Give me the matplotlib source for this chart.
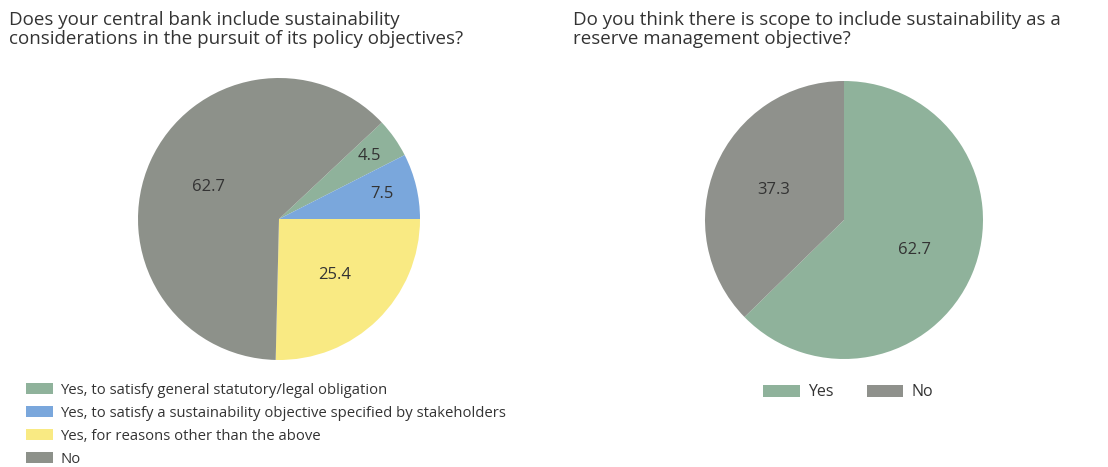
import matplotlib.pyplot as plt
import numpy as np
from matplotlib.patches import Patch

# ---- data ----
policy_labels = ["Yes, to satisfy general statutory/legal obligation",
                 "Yes, to satisfy a sustainability objective specified by stakeholders",
                 "Yes, for reasons other than the above",
                 "No"]
policy_values = [4.5, 7.5, 25.4, 62.7]
policy_colors = ["#8fb29b", "#7aa7dc", "#f9ea83", "#8d918a"]
policy_label_dist = [0.78, 0.75, 0.56, 0.55]

reserve_labels = ["Yes", "No"]
reserve_values = [62.7, 37.3]
reserve_colors = ["#8fb29b", "#8f918c"]

title_left = "Does your central bank include sustainability\nconsiderations in the pursuit of its policy objectives?"
title_right = "Do you think there is scope to include sustainability as a\nreserve management objective?"

W, H = 1108, 467
plt.rcParams['font.family'] = ['Open Sans', 'DejaVu Sans']
text_col = "#333333"

fig = plt.figure(figsize=(W / 100, H / 100), dpi=100)


def px_axes(cx, cy, r):
    # square axes centred on pixel (cx, cy) from top-left
    return fig.add_axes([(cx - r) / W, (H - cy - r) / H, 2 * r / W, 2 * r / H])


def draw_pie(ax, values, colors, startangle, dists):
    wedges, _ = ax.pie(values, colors=colors, startangle=startangle, counterclock=False,
                       radius=1, wedgeprops=dict(linewidth=0))
    for w, v, d in zip(wedges, values, dists):
        mid = np.deg2rad((w.theta1 + w.theta2) / 2)
        ax.text(d * np.cos(mid), d * np.sin(mid), f"{v:.1f}", ha='center', va='center',
                fontsize=12, color=text_col)
    ax.set_xlim(-1, 1)
    ax.set_ylim(-1, 1)
    ax.set_aspect('equal')
    ax.axis('off')


# left pie: first two slices sit above the 3 o'clock line
ax1 = px_axes(279, 219, 141)
start1 = 360 * sum(policy_values[:2]) / sum(policy_values)
draw_pie(ax1, policy_values, policy_colors, start1, policy_label_dist)

ax2 = px_axes(844, 220, 139)
draw_pie(ax2, reserve_values, reserve_colors, 90, [0.55, 0.55])

# titles
fig.text(9 / W, 1 - 11 / H, title_left, ha='left', va='top', fontsize=13.5,
         color=text_col, linespacing=1.1)
fig.text(573 / W, 1 - 11 / H, title_right, ha='left', va='top', fontsize=13.5,
         color=text_col, linespacing=1.1)

# legends
h1 = [Patch(facecolor=c, edgecolor='none', label=l) for c, l in zip(policy_colors, policy_labels)]
fig.legend(handles=h1, loc='upper left', bbox_to_anchor=(20 / W, 1 - 377 / H), frameon=False,
           fontsize=10.7, handlelength=1.8, handleheight=0.75, handletextpad=0.5,
           labelspacing=0.53, borderaxespad=0, labelcolor=text_col)

h2 = [Patch(facecolor=c, edgecolor='none', label=l) for c, l in zip(reserve_colors, reserve_labels)]
fig.legend(handles=h2, loc='upper center', bbox_to_anchor=(848 / W, 1 - 378 / H), frameon=False,
           fontsize=11.5, ncol=2, handlelength=2.3, handleheight=0.75, handletextpad=0.5,
           columnspacing=2.1, borderaxespad=0, labelcolor=text_col)

fig.savefig("out.png", dpi=100)
